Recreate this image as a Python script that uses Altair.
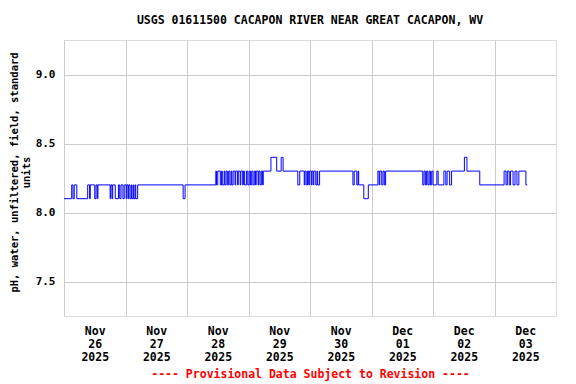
import altair as alt
import pandas as pd

# pH readings: hours since 2025-11-26 00:00 UTC at which the reading changed, and the new value
change_hours = [
    0, 3.0, 3.5, 4.0, 5.0, 9.25, 10.0, 10.25, 12.0, 12.5, 13.0, 13.25, 18.0, 18.25, 18.75, 19.0,
    20.0, 21.25, 21.75, 22.25, 23.0, 23.5, 24.25, 24.5, 25.0, 25.25, 25.75, 26.25, 26.5, 27.0,
    27.25, 27.75, 28.0, 28.75, 46.5, 47.25, 59.25, 59.5, 60.0, 61.0, 61.5, 61.75, 62.5, 62.75,
    63.25, 63.75, 64.25, 64.75, 65.25, 65.5, 66.0, 66.75, 67.0, 67.75, 68.0, 68.75, 69.0, 69.75,
    70.0, 70.5, 71.25, 71.75, 72.25, 72.75, 73.25, 73.75, 74.25, 74.75, 75.0, 75.75, 76.0, 76.5,
    77.0, 77.5, 77.75, 80.75, 83.0, 84.75, 85.5, 91.25, 92.0, 93.75, 94.0, 94.5, 95.0, 95.5,
    95.75, 96.5, 96.75, 97.25, 97.5, 98.25, 98.75, 99.0, 99.75, 112.75, 113.25, 114.25, 114.75,
    115.0, 117.0, 118.75, 122.5, 123.0, 123.25, 124.0, 124.5, 125.0, 125.5, 140.0, 140.5, 141.0,
    141.5, 142.0, 142.5, 143.0, 143.5, 144.0, 145.5, 146.0, 148.25, 149.0, 149.5, 150.5, 151.25,
    156.25, 157.25, 162.25, 171.75, 172.5, 173.0, 173.75, 174.25, 175.25, 176.0, 176.75, 177.5,
    180.25, 180.75,
]
ph_values = [
    8.1, 8.2, 8.1, 8.2, 8.1, 8.2, 8.1, 8.2, 8.1, 8.2, 8.1, 8.2, 8.1, 8.2, 8.1, 8.2,
    8.1, 8.2, 8.1, 8.2, 8.1, 8.2, 8.1, 8.2, 8.1, 8.2, 8.1, 8.2, 8.1, 8.2,
    8.1, 8.2, 8.1, 8.2, 8.1, 8.2, 8.3, 8.2, 8.3, 8.2, 8.3, 8.2, 8.3, 8.2,
    8.3, 8.2, 8.3, 8.2, 8.3, 8.2, 8.3, 8.2, 8.3, 8.2, 8.3, 8.2, 8.3, 8.2,
    8.3, 8.2, 8.3, 8.2, 8.3, 8.2, 8.3, 8.2, 8.3, 8.2, 8.3, 8.2, 8.3, 8.2,
    8.3, 8.2, 8.3, 8.4, 8.3, 8.4, 8.3, 8.2, 8.3, 8.2, 8.3, 8.2, 8.3, 8.2,
    8.3, 8.2, 8.3, 8.2, 8.3, 8.2, 8.3, 8.2, 8.3, 8.2, 8.3, 8.2, 8.3,
    8.2, 8.1, 8.2, 8.3, 8.2, 8.3, 8.2, 8.3, 8.2, 8.3, 8.2, 8.3, 8.2,
    8.3, 8.2, 8.3, 8.2, 8.3, 8.2, 8.3, 8.2, 8.3, 8.2, 8.3, 8.2, 8.3,
    8.4, 8.3, 8.2, 8.3, 8.2, 8.3, 8.2, 8.3, 8.2, 8.3, 8.2, 8.3,
    8.2, 8.2,
]

y_ticks = [7.5, 8.0, 8.5, 9.0]
day_ticks = (
    [alt.DateTime(year=2025, month=11, date=d, utc=True) for d in range(26, 31)]
    + [alt.DateTime(year=2025, month=12, date=d, utc=True) for d in range(1, 4)]
)
x_start = alt.DateTime(year=2025, month=11, date=26, utc=True)
x_end = alt.DateTime(year=2025, month=12, date=4, utc=True)

title_text = "USGS 01611500 CACAPON RIVER NEAR GREAT CACAPON, WV"
y_title = ["pH, water, unfiltered, field, standard", "units"]
footer = "---- Provisional Data Subject to Revision ----"

start = pd.Timestamp("2025-11-26T00:00:00")
times = [(start + pd.Timedelta(hours=h)).strftime("%Y-%m-%dT%H:%M:%SZ") for h in change_hours]
df = pd.DataFrame({"time": times, "ph": ph_values})

FONT = "DejaVu Sans Mono"

chart = (
    alt.Chart(df)
    .mark_line(interpolate="step-after", color="#0000ff", strokeWidth=1, clip=True)
    .encode(
        x=alt.X(
            "time:T",
            scale=alt.Scale(type="utc", domain=[x_start, x_end]),
            axis=alt.Axis(
                values=day_ticks,
                labelExpr="[utcFormat(datum.value, '%b'), utcFormat(datum.value, '%d'), utcFormat(datum.value, '%Y')]",
                labelOffset=30.75,
                labelAlign="center",
                labelBaseline="top",
                labelFlush=False,
                labelOverlap=False,
                ticks=False,
                domain=False,
                labelPadding=9,
                labelLineHeight=13,
                labelFont=FONT,
                labelFontSize=11.5,
                labelFontWeight="bold",
                labelColor="black",
                grid=True,
                gridColor="#cccccc",
                gridWidth=1,
                title=footer,
                titleFont=FONT,
                titleFontSize=11.5,
                titleFontWeight="bold",
                titleColor="#ff0000",
                titlePadding=6,
            ),
        ),
        y=alt.Y(
            "ph:Q",
            scale=alt.Scale(domain=[7.25, 9.25], nice=False, zero=False),
            axis=alt.Axis(
                values=y_ticks,
                format=".1f",
                ticks=False,
                domain=False,
                labelPadding=9,
                labelFont=FONT,
                labelFontSize=11,
                labelFontWeight="bold",
                labelColor="black",
                grid=True,
                gridColor="#cccccc",
                gridWidth=1,
                title=y_title,
                titleFont=FONT,
                titleFontSize=10.5,
                titleFontWeight="bold",
                titleColor="black",
                titleLineHeight=12,
                titlePadding=4,
                titleY=132,
            ),
        ),
    )
    .properties(
        width=492,
        height=276,
        autosize=alt.AutoSizeParams(type="none"),
        padding={"left": 56, "top": 32, "right": 12, "bottom": 66},
        title=alt.TitleParams(
            text=title_text,
            font=FONT,
            fontSize=11.5,
            fontWeight="bold",
            color="black",
            anchor="middle",
            offset=14,
        ),
    )
    .configure_view(stroke="black", strokeWidth=1)
    .configure(background="white")
)

chart.save("out.html", embed_options={"renderer": "svg", "actions": False})
